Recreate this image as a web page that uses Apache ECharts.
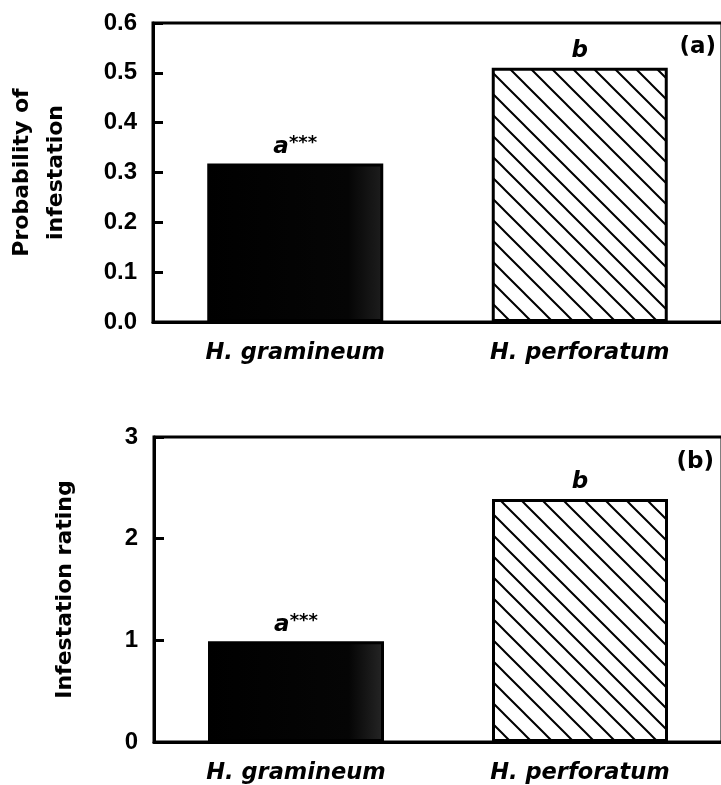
<!DOCTYPE html>
<html>
<head>
<meta charset="utf-8">
<script src="https://cdn.jsdelivr.net/npm/echarts@6/dist/echarts.min.js"></script>
<style>
  html, body { margin: 0; padding: 0; background: #fff; }
  #chart { width: 721px; height: 785px; }
</style>
</head>
<body>
<div id="chart"></div>
<script>
// Species on the x axis of both panels
const species = ['H. gramineum', 'H. perforatum'];
// Panel (a): probability of infestation
const probInfestation = [0.318, 0.51];
// Panel (b): mean infestation rating
const infestRating = [0.99, 2.39];
// Significance letters and stars above each bar
const sigLetters = ['a', 'b'];
const sigStars = ['***', ''];
// Y-axis ranges
const probAxis = { min: 0, max: 0.6, interval: 0.1 };
const ratingAxis = { min: 0, max: 3, interval: 1 };
const panelLabels = ['(a)', '(b)'];

const FONT = 'DejaVu Sans, sans-serif';
const TICK_FONT = 'Liberation Sans, Arial, sans-serif';

// diagonal "\\" hatch tile for the second bar
function hatchPattern() {
  const s = 21;
  const c = document.createElement('canvas');
  c.width = s; c.height = s;
  const ctx = c.getContext('2d');
  ctx.fillStyle = '#fff';
  ctx.fillRect(0, 0, s, s);
  ctx.strokeStyle = '#000';
  ctx.lineWidth = 2;
  ctx.beginPath();
  ctx.moveTo(-3, -3); ctx.lineTo(s + 3, s + 3);
  ctx.moveTo(-3, s - 3); ctx.lineTo(3, s + 3);
  ctx.moveTo(s - 3, -3); ctx.lineTo(s + 3, 3);
  ctx.stroke();
  return { image: c, repeat: 'repeat' };
}

function solidFill(edge) {
  return {
    type: 'linear', x: 0, y: 0, x2: 1, y2: 0,
    colorStops: [
      { offset: 0, color: '#000' },
      { offset: 0.8, color: '#050505' },
      { offset: 1, color: edge }
    ]
  };
}

const hatch = hatchPattern();

function barData(values, edge) {
  return values.map((v, i) => ({
    value: v,
    itemStyle: {
      color: i === 0 ? solidFill(edge) : hatch,
      borderColor: '#000',
      borderWidth: 3
    }
  }));
}

const labelRich = {
  a: { fontFamily: FONT, fontSize: 23, fontWeight: 'bold', fontStyle: 'italic', color: '#000', lineHeight: 25 },
  s: { fontFamily: FONT, fontSize: 18, fontWeight: 'bold', fontStyle: 'italic', color: '#000', lineHeight: 17, verticalAlign: 'top' }
};

function sigLabel(p) {
  const stars = sigStars[p.dataIndex];
  return '{a|' + sigLetters[p.dataIndex] + '}' + (stars ? '{s|' + stars + '}' : '');
}

function xAxisCfg(gridIndex) {
  return {
    type: 'category', gridIndex, data: species,
    axisLine: { lineStyle: { color: '#000', width: 3 } },
    axisTick: { show: false },
    axisLabel: {
      margin: 20, color: '#000', fontFamily: FONT, fontSize: 22.5,
      fontWeight: 'bold', fontStyle: 'italic'
    },
    splitLine: { show: false }
  };
}

function yAxisCfg(gridIndex, range, name, gap, decimals) {
  return {
    type: 'value', gridIndex, min: range.min, max: range.max, interval: range.interval,
    name, nameLocation: 'middle', nameGap: gap,
    nameTextStyle: { fontFamily: FONT, fontSize: 22, fontWeight: 'bold', color: '#000', lineHeight: 34 },
    axisLine: { show: true, lineStyle: { color: '#000', width: 3 } },
    axisTick: { show: true, inside: true, length: 10, lineStyle: { color: '#000', width: 3 } },
    axisLabel: {
      margin: 16, color: '#000', fontFamily: TICK_FONT, fontSize: 24, fontWeight: 'bold',
      formatter: v => v.toFixed(decimals)
    },
    splitLine: { show: false }
  };
}

const chart = echarts.init(document.getElementById('chart'), null, { renderer: 'canvas' });

const gridBase = {
  right: -1, show: true, borderColor: '#000', borderWidth: 3,
  backgroundColor: 'transparent', containLabel: false, outerBoundsMode: 'none'
};

chart.setOption({
  backgroundColor: '#fff',
  animation: false,
  title: [
    { text: panelLabels[0], right: 0, top: 31, textStyle: { fontFamily: FONT, fontSize: 23, fontWeight: 'bold', color: '#000' } },
    { text: panelLabels[1], right: 2, top: 446, textStyle: { fontFamily: FONT, fontSize: 23, fontWeight: 'bold', color: '#000' } }
  ],
  grid: [
    Object.assign({ left: 153, top: 23, height: 299 }, gridBase),
    Object.assign({ left: 154, top: 437, height: 305 }, gridBase)
  ],
  xAxis: [xAxisCfg(0), xAxisCfg(1)],
  yAxis: [
    yAxisCfg(0, probAxis, 'Probability of\ninfestation', 80, 1),
    yAxisCfg(1, ratingAxis, 'Infestation rating', 72, 0)
  ],
  series: [
    {
      type: 'bar', xAxisIndex: 0, yAxisIndex: 0, barWidth: 176,
      data: barData(probInfestation, '#1e1e1e'),
      label: { show: true, position: 'top', distance: 4, formatter: sigLabel, rich: labelRich }
    },
    {
      type: 'bar', xAxisIndex: 1, yAxisIndex: 1, barWidth: 176,
      data: barData(infestRating, '#262626'),
      label: { show: true, position: 'top', distance: 4, formatter: sigLabel, rich: labelRich }
    }
  ]
});
</script>
</body>
</html>
